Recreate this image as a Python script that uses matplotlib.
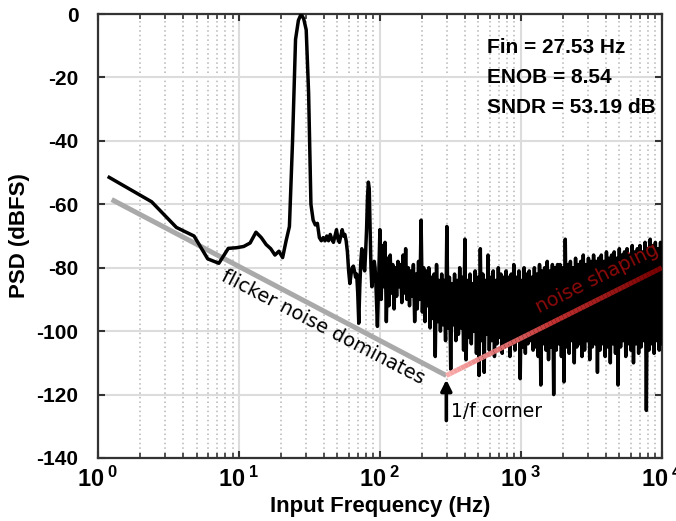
import numpy as np
import matplotlib
matplotlib.use("Agg")
import matplotlib.pyplot as plt
from matplotlib.collections import LineCollection
from matplotlib.colors import LinearSegmentedColormap

plt.rcParams['font.family'] = ['Liberation Sans', 'DejaVu Sans']
plt.rcParams['mathtext.fontset'] = 'custom'
plt.rcParams['mathtext.rm'] = 'Liberation Sans:bold'
plt.rcParams['mathtext.bf'] = 'Liberation Sans:bold'
plt.rcParams['axes.unicode_minus'] = False

# FFT bin spacing of the low part (Hz)
df = 1.2
# PSD in dBFS, bins 1..83 (1.2 Hz .. 99.6 Hz)
low_db = [-51.5, -59.2, -67.3, -70.0, -77.2, -78.6, -73.9, -73.7, -73.3, -72.2,
          -68.8, -70.5, -72.7, -74.0, -76.0, -74.8, -76.8, -71.5, -67.0, -40.0,
          -8.0, -2.0, 0.0, -1.5, -5.0, -25.0, -60.0,
          -65.0, -66.5, -66.0, -70.5, -71.5, -70.5, -71.5, -70.0, -71.5, -69.5,
          -71.0, -72.0, -70.0, -68.0, -71.0, -72.0, -70.0, -68.0, -70.0, -69.5,
          -71.5, -75.0, -81.0, -85.0, -82.0, -80.0, -79.5, -81.0, -83.0, -82.0,
          -88.0, -97.5, -86.0, -78.0, -74.0, -76.0, -80.0, -81.0, -75.0, -68.0,
          -58.0, -53.0, -55.0, -68.0, -80.0, -86.0, -84.0, -82.0, -78.0, -80.0,
          -85.0, -92.0, -98.5, -90.0, -80.0, -70.0]

# 100 Hz .. 10 kHz: local maxima / minima of the dense noise floor
dense_hi = [-68, -73, -72, -77, -76, -79, -80, -78, -79, -76, -74, -80, -81, -79,
            -82, -78, -65, -80, -81, -80, -83, -82, -79, -84, -82, -84, -67,
            -83, -85, -82, -84, -80, -83, -71, -84, -82, -85, -81, -83, -74, -82,
            -84, -76, -83, -81, -84, -80, -82, -83, -81, -83, -82, -79, -83, -81,
            -84, -80, -82, -81, -83, -80, -82, -79, -81, -80, -78, -81, -79, -80,
            -79, -79, -80, -71, -79, -78, -80, -77, -79, -78, -76, -79, -77, -78,
            -76, -78, -77, -76, -78, -75, -77, -76, -75, -77, -74, -76, -75, -74,
            -76, -73, -75, -74, -73, -75, -72, -74, -71, -73, -72, -74, -72]
dense_lo = [-90, -86, -97, -92, -88, -93, -89, -86, -91, -88, -90, -92, -89, -97,
            -93, -90, -94, -97, -92, -99, -96, -108, -97, -100, -98, -103, -99,
            -112, -98, -103, -101, -99, -106, -109, -102, -104, -100, -107, -114,
            -103, -113, -101, -106, -103, -108, -104, -102, -107, -105, -103, -108,
            -104, -106, -103, -115, -105, -107, -104, -103, -106, -105, -108, -117,
            -104, -106, -109, -105, -120, -106, -104, -108, -116, -105, -107, -103,
            -110, -105, -104, -108, -106, -103, -109, -105, -104, -113, -106, -104,
            -108, -105, -110, -104, -107, -117, -105, -103, -108, -104, -106, -110,
            -104, -107, -105, -103, -125, -106, -104, -107, -103, -106, -104]

# guide lines (Hz, dBFS)
flicker_f = [1.25, 296]
flicker_db = [-58.5, -114]
shaping_f = [296, 10000]
shaping_db = [-114, -80]

fin_txt = ['Fin = 27.53 Hz', 'ENOB = 8.54', 'SNDR = 53.19 dB']

low_f = np.arange(1, len(low_db) + 1) * df
dense_f = np.geomspace(100, 10000, 2 * len(dense_hi))
dense_db = np.column_stack([dense_hi, dense_lo]).ravel()
freq = np.concatenate([low_f, dense_f])
psd = np.concatenate([low_db, dense_db])

fig = plt.figure(figsize=(6.76, 5.21), dpi=100)
ax = fig.add_axes([0.145, 0.121, 0.834, 0.852])

ax.semilogx(flicker_f, flicker_db, color='#a9a9a9', lw=3.6, solid_capstyle='butt', zorder=2)
ax.semilogx(freq, psd, color='k', lw=2.5, zorder=3)

# gradient line for noise shaping
sf = np.geomspace(shaping_f[0], shaping_f[1], 60)
sd = np.interp(np.log10(sf), np.log10(shaping_f), shaping_db)
pts = np.column_stack([sf, sd]).reshape(-1, 1, 2)
segs = np.concatenate([pts[:-1], pts[1:]], axis=1)
cmap = LinearSegmentedColormap.from_list('pr', ['#fbaaaa', '#c03030', '#780000'])
lc = LineCollection(segs, cmap=cmap, linewidths=3.6, zorder=4)
lc.set_array(np.linspace(0, 1, len(segs)))
ax.add_collection(lc)

ax.set_xlim(1, 10000)
ax.set_ylim(-140, 0)
ax.set_yticks(np.arange(-140, 1, 20))
ax.set_xticks([1, 10, 100, 1000, 10000])
ax.set_xticklabels([r'$\mathrm{10^{\;%d}}$' % i for i in range(5)])

ax.grid(True, which='major', color='#dcdcdc', lw=1.5, zorder=0)
ax.grid(True, which='minor', axis='x', color='#b5b5b5', lw=1.1, ls=(0, (1, 2)), zorder=0)
ax.set_axisbelow(True)

ax.tick_params(which='both', direction='in', top=True, right=True, color='#333333')
ax.tick_params(which='major', length=5, width=1.5)
ax.tick_params(which='minor', length=3.5, width=1.2)
ax.tick_params(axis='y', pad=14, labelsize=15)
ax.tick_params(axis='x', pad=6, labelsize=17)
for t in ax.get_yticklabels():
    t.set_fontweight('bold')
for s in ax.spines.values():
    s.set_linewidth(1.6)
    s.set_color('#333333')

ax.set_xlabel('Input Frequency (Hz)', fontsize=16, fontweight='bold')
ax.set_ylabel('PSD (dBFS)', fontsize=16, fontweight='bold')
ax.xaxis.set_label_coords(0.5, -0.086)
ax.yaxis.set_label_coords(-0.12, 0.5)

for txt, yv in zip(fin_txt, [-10.5, -20, -29.5]):
    ax.text(574, yv, txt, fontsize=15, fontweight='bold', va='center', ha='left', zorder=6)

ax.text(39.4, -98.8, 'flicker noise dominates', family='DejaVu Sans', fontsize=14,
        rotation=-27.5, rotation_mode='anchor', ha='center', va='center', zorder=6)
ax.text(3460, -83.3, 'noise shaping', family='DejaVu Sans', fontsize=14, color='#8b0a0a',
        rotation=26.5, rotation_mode='anchor', ha='center', va='center', zorder=6)
ax.text(322, -125.5, '1/f corner', family='DejaVu Sans', fontsize=13.5,
        ha='left', va='center', zorder=6)
ax.annotate('', xy=(296, -115.3), xytext=(296, -128.2),
            arrowprops=dict(arrowstyle='-|>', color='k', lw=2.6, mutation_scale=16,
                            shrinkA=0, shrinkB=0), zorder=6)

fig.savefig('out.png', dpi=100)
